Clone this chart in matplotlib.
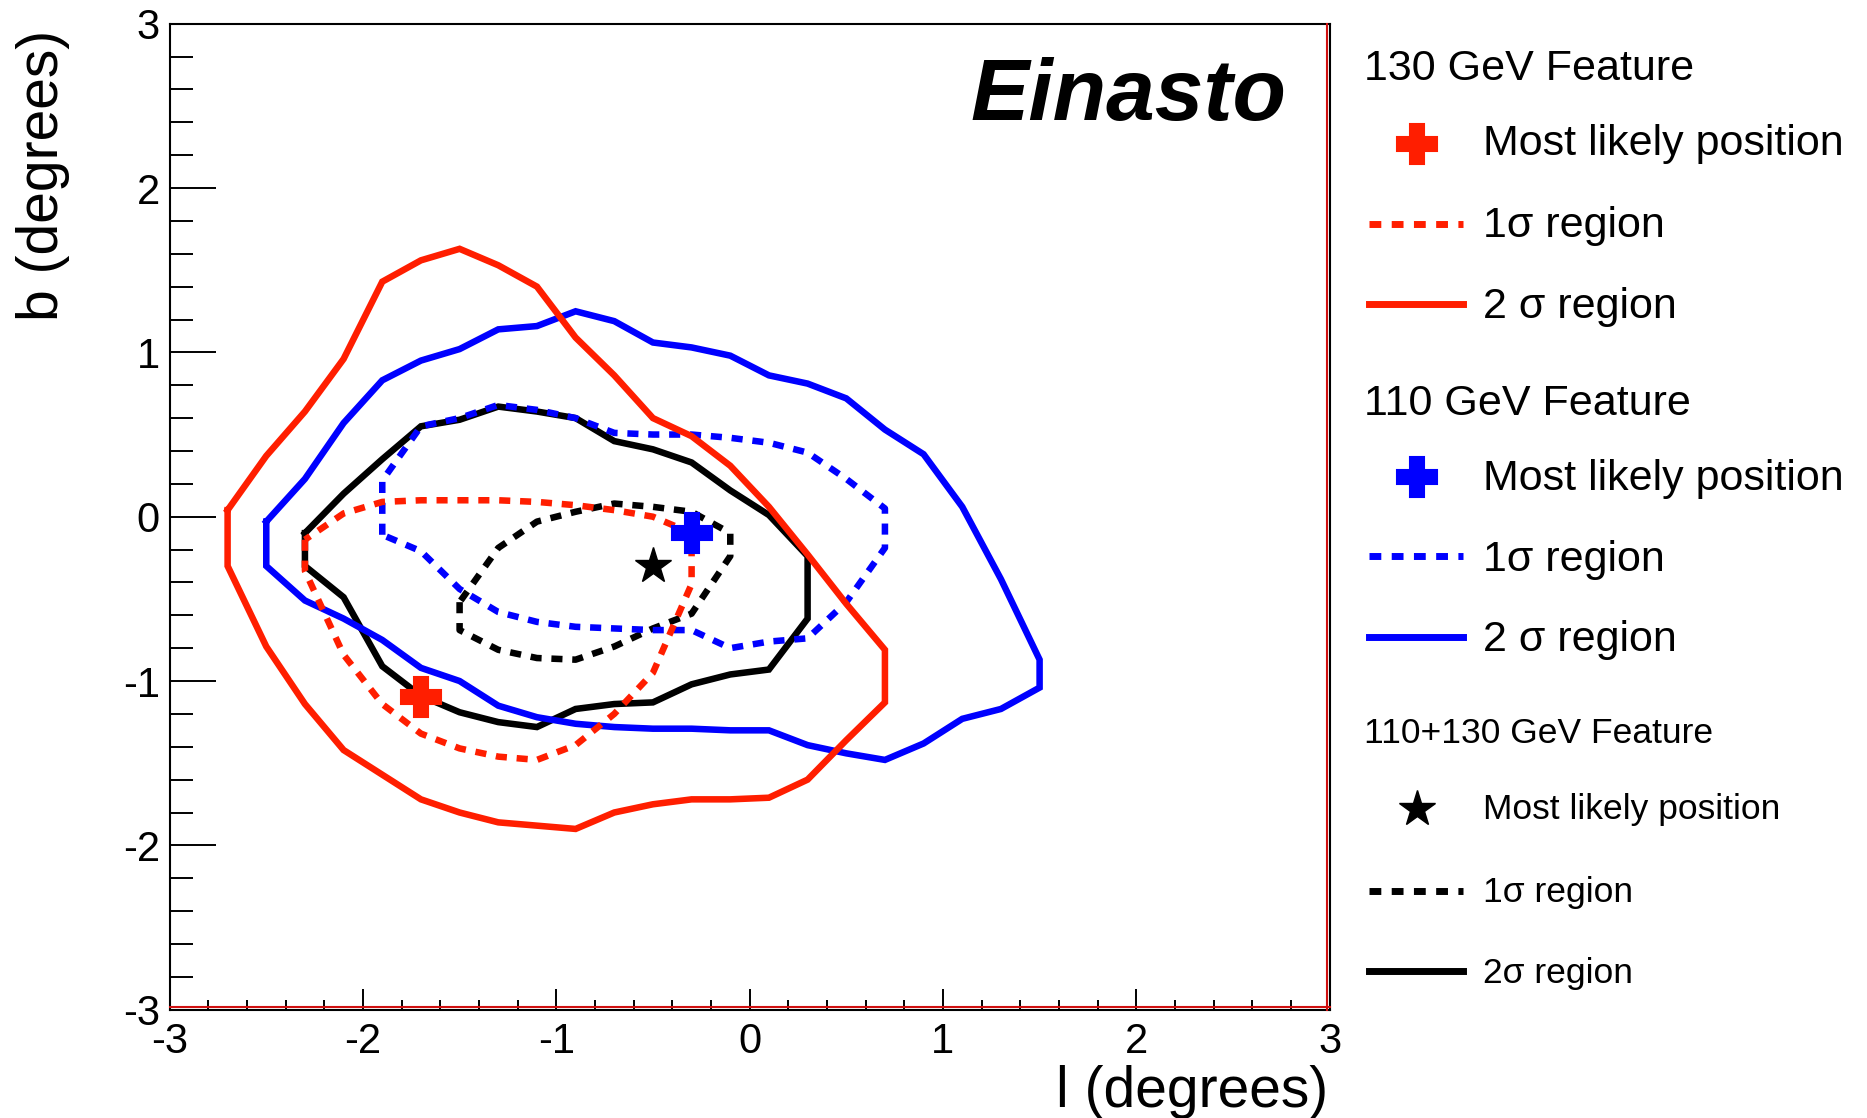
import matplotlib
matplotlib.use("Agg")
import matplotlib.pyplot as plt
import matplotlib.transforms as mtransforms
from matplotlib.lines import Line2D
from matplotlib.ticker import MultipleLocator

plt.rcParams['font.family'] = ['Liberation Sans', 'DejaVu Sans']
plt.rcParams['axes.unicode_minus'] = False

# ---- 130 GeV feature -------------------------------------------------------
red_best_l, red_best_b = [-1.7], [-1.1]
red_1sig_l = [-2.3, -2.3, -2.1, -1.9, -1.7, -1.5, -1.3, -1.1, -0.9, -0.7, -0.5, -0.3,
              -0.3, -0.5, -0.7, -0.9, -1.1, -1.3, -1.5, -1.7, -1.9, -2.1, -2.3]
red_1sig_b = [-0.14, -0.33, -0.84, -1.14, -1.32, -1.41, -1.46, -1.48, -1.39, -1.20, -0.95, -0.41,
              -0.10, 0.00, 0.04, 0.07, 0.09, 0.10, 0.10, 0.10, 0.09, 0.02, -0.14]
red_2sig_l = [-2.7, -2.7, -2.5, -2.3, -2.1, -1.9, -1.7, -1.5, -1.3, -1.1, -0.9, -0.7, -0.5,
              -0.3, -0.1, 0.1, 0.3, 0.5, 0.7, 0.7, 0.5, 0.3, 0.1, -0.1, -0.3, -0.5, -0.7,
              -0.9, -1.1, -1.3, -1.5, -1.7, -1.9, -2.1, -2.3, -2.5, -2.7]
red_2sig_b = [0.04, -0.30, -0.79, -1.14, -1.42, -1.57, -1.72, -1.80, -1.86, -1.88, -1.90, -1.80,
              -1.75, -1.72, -1.72, -1.71, -1.60, -1.36, -1.13, -0.81, -0.53, -0.23, 0.06, 0.31,
              0.49, 0.60, 0.86, 1.09, 1.40, 1.53, 1.63, 1.56, 1.43, 0.96, 0.64, 0.37, 0.04]

# ---- 110 GeV feature -------------------------------------------------------
blue_best_l, blue_best_b = [-0.3], [-0.1]
blue_1sig_l = [-1.9, -1.9, -1.7, -1.5, -1.3, -1.1, -0.9, -0.7, -0.5, -0.3, -0.1, 0.1, 0.3,
               0.5, 0.7, 0.7, 0.5, 0.3, 0.1, -0.1, -0.3, -0.5, -0.7, -0.9, -1.1, -1.3, -1.5,
               -1.7, -1.9]
blue_1sig_b = [-0.11, 0.22, 0.55, 0.60, 0.68, 0.65, 0.60, 0.51, 0.50, 0.50, 0.48, 0.45, 0.39,
               0.23, 0.05, -0.19, -0.52, -0.74, -0.76, -0.80, -0.69, -0.69, -0.68, -0.67,
               -0.64, -0.58, -0.44, -0.21, -0.11]
blue_2sig_l = [-2.5, -2.5, -2.3, -2.1, -1.9, -1.7, -1.5, -1.3, -1.1, -0.9, -0.7, -0.5, -0.3,
               -0.1, 0.1, 0.3, 0.5, 0.7, 0.9, 1.1, 1.3, 1.5, 1.5, 1.3, 1.1, 0.9, 0.7, 0.5,
               0.3, 0.1, -0.1, -0.3, -0.5, -0.7, -0.9, -1.1, -1.3, -1.5, -1.7, -1.9, -2.1,
               -2.3, -2.5]
blue_2sig_b = [-0.03, -0.30, -0.51, -0.62, -0.75, -0.92, -1.00, -1.15, -1.22, -1.26, -1.28,
               -1.29, -1.29, -1.30, -1.30, -1.39, -1.44, -1.48, -1.38, -1.23, -1.17, -1.04,
               -0.87, -0.38, 0.06, 0.38, 0.53, 0.72, 0.81, 0.86, 0.98, 1.03, 1.06, 1.19,
               1.25, 1.16, 1.14, 1.02, 0.95, 0.83, 0.57, 0.23, -0.03]

# ---- 110+130 GeV feature ---------------------------------------------------
comb_best_l, comb_best_b = [-0.5], [-0.3]
comb_1sig_l = [-1.5, -1.5, -1.3, -1.1, -0.9, -0.7, -0.5, -0.3, -0.1, -0.1, -0.3, -0.5, -0.7,
               -0.9, -1.1, -1.3, -1.5]
comb_1sig_b = [-0.52, -0.69, -0.81, -0.86, -0.87, -0.79, -0.68, -0.59, -0.24, -0.10, 0.03,
               0.06, 0.08, 0.03, -0.03, -0.19, -0.52]
comb_2sig_l = [-2.3, -2.3, -2.1, -1.9, -1.7, -1.5, -1.3, -1.1, -0.9, -0.7, -0.5, -0.3, -0.1,
               0.1, 0.3, 0.3, 0.1, -0.1, -0.3, -0.5, -0.7, -0.9, -1.1, -1.3, -1.5, -1.7,
               -1.9, -2.1, -2.3]
comb_2sig_b = [-0.10, -0.30, -0.49, -0.91, -1.09, -1.19, -1.25, -1.28, -1.17, -1.14, -1.13,
               -1.02, -0.96, -0.93, -0.62, -0.24, 0.01, 0.16, 0.33, 0.41, 0.46, 0.60, 0.64,
               0.67, 0.59, 0.55, 0.35, 0.14, -0.10]

RED = '#ff1e00'
BLUE = '#0000ff'
BLACK = '#000000'
LW = 4.7
DOTS = (0, (1.7, 1.5))

W, H = 1867, 1118
fig = plt.figure(figsize=(W / 100, H / 100), dpi=100)
ax = fig.add_axes([169.6 / W, 1 - 1009.7 / H, 1160 / W, 986 / H])
ax.set_xlim(-3, 3)
ax.set_ylim(-3, 3)


def contour(l, b, color, style, z):
    ax.plot(l, b, color=color, lw=LW, linestyle=style, dash_capstyle='butt',
            solid_joinstyle='miter', zorder=z)


contour(comb_1sig_l, comb_1sig_b, BLACK, DOTS, 2)
contour(comb_2sig_l, comb_2sig_b, BLACK, '-', 2)
contour(blue_1sig_l, blue_1sig_b, BLUE, DOTS, 3)
contour(blue_2sig_l, blue_2sig_b, BLUE, '-', 3)
contour(red_1sig_l, red_1sig_b, RED, DOTS, 4)
contour(red_2sig_l, red_2sig_b, RED, '-', 4)

ax.plot(red_best_l, red_best_b, linestyle='none', marker='P', ms=29, color=RED,
        mec=RED, mew=1.5, zorder=6)
ax.plot(blue_best_l, blue_best_b, linestyle='none', marker='P', ms=29, color=BLUE,
        mec=BLUE, mew=1.5, zorder=6)
ax.plot(comb_best_l, comb_best_b, linestyle='none', marker='*', ms=27, color=BLACK,
        mec=BLACK, mew=1, zorder=6)

ax.text(0.963, 0.902, 'Einasto', transform=ax.transAxes, ha='right', va='baseline',
        fontsize=63, fontweight='bold', fontstyle='italic')

# axes frame and ticks
for side in ('left', 'top', 'right', 'bottom'):
    ax.spines[side].set_linewidth(1.5)
    ax.spines[side].set_color('black')
off_up = ax.transAxes + mtransforms.ScaledTranslation(0, 2.5 / 100, fig.dpi_scale_trans)
off_left = ax.transAxes + mtransforms.ScaledTranslation(-2.5 / 100, 0, fig.dpi_scale_trans)
ax.add_line(Line2D([0, 1], [0, 0], transform=off_up, color='#d01010', lw=1.5,
                   clip_on=False, zorder=7))
ax.add_line(Line2D([1, 1], [0, 1], transform=off_left, color='#d01010', lw=1.5,
                   clip_on=False, zorder=7))

ax.xaxis.set_major_locator(MultipleLocator(1))
ax.xaxis.set_minor_locator(MultipleLocator(0.2))
ax.yaxis.set_major_locator(MultipleLocator(1))
ax.yaxis.set_minor_locator(MultipleLocator(0.2))
ax.tick_params(which='both', direction='in', top=False, right=False, width=1.4,
               labelsize=30, color='black')
ax.tick_params(axis='x', which='major', length=15, pad=9)
ax.tick_params(axis='x', which='minor', length=7.5)
ax.tick_params(axis='y', which='major', length=33, pad=7)
ax.tick_params(axis='y', which='minor', length=16.6)

fig.text(1328 / W, 1 - 1107 / H, 'l (degrees)', ha='right', va='baseline', fontsize=41)
fig.text(43.5 / W, 1 - 30 / H, 'b (degrees)', ha='center', va='top', rotation=90,
         fontsize=41)

# ---- legend panel ------------------------------------------------------------
X_HEAD, X_TEXT, X_LINE0, X_LINE1, X_MARK = 1364, 1483, 1369, 1463, 1417


def fx(x):
    return x / W


def fy(y):
    return 1 - y / H


def head(y_base, text, size):
    fig.text(fx(X_HEAD), fy(y_base), text, ha='left', va='baseline', fontsize=size)


def entry_text(y_base, text, size):
    fig.text(fx(X_TEXT), fy(y_base), text, ha='left', va='baseline', fontsize=size)


def entry_line(y, color, style):
    fig.add_artist(Line2D([fx(X_LINE0), fx(X_LINE1)], [fy(y), fy(y)], color=color,
                          lw=5, linestyle=style, dash_capstyle='butt',
                          transform=fig.transFigure))


def entry_marker(y, color, marker, ms, mew):
    fig.add_artist(Line2D([fx(X_MARK)], [fy(y)], color=color, marker=marker, ms=ms,
                          mec=color, mew=mew, linestyle='none',
                          transform=fig.transFigure))


head(80, '130 GeV Feature', 31)
entry_marker(144, RED, 'P', 29, 1.5)
entry_text(155, 'Most likely position', 31)
entry_line(224, RED, DOTS)
entry_text(237, '1σ region', 31)
entry_line(304, RED, '-')
entry_text(318, '2 σ region', 31)

head(415, '110 GeV Feature', 31)
entry_marker(477, BLUE, 'P', 29, 1.5)
entry_text(490, 'Most likely position', 31)
entry_line(556, BLUE, DOTS)
entry_text(571, '1σ region', 31)
entry_line(637, BLUE, '-')
entry_text(651, '2 σ region', 31)

head(743, '110+130 GeV Feature', 25.5)
entry_marker(809, BLACK, '*', 27, 1)
entry_text(819, 'Most likely position', 25.5)
entry_line(891, BLACK, DOTS)
entry_text(902, '1σ region', 25.5)
entry_line(971, BLACK, '-')
entry_text(983, '2σ region', 25.5)

fig.savefig('out.png', dpi=100)
